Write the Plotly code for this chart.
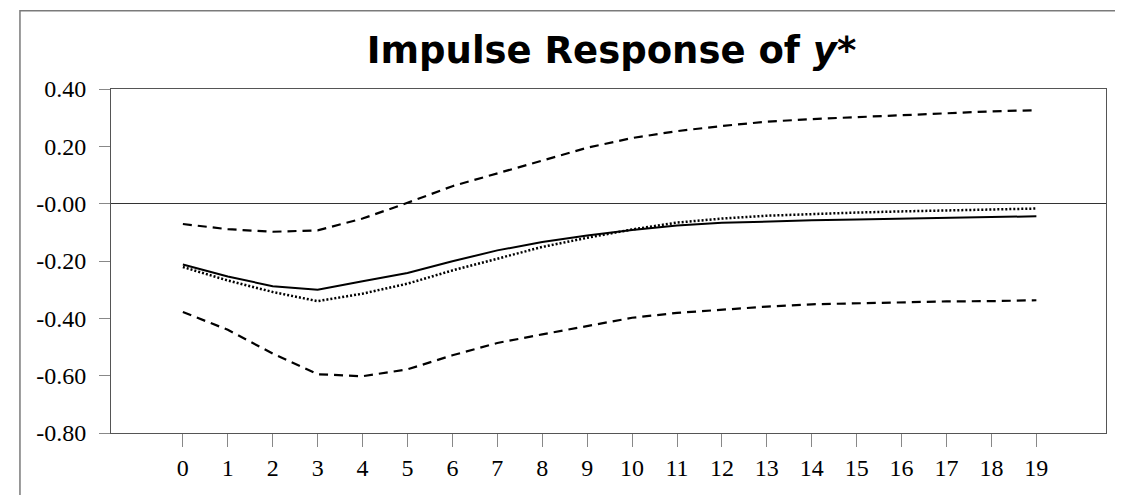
import plotly.graph_objects as go

# horizon (periods after the shock)
periods = list(range(20))

# impulse response of y* (solid) and the second estimate (dotted)
response = [-0.212, -0.254, -0.288, -0.300, -0.271, -0.242, -0.201, -0.163, -0.134, -0.111,
            -0.092, -0.076, -0.067, -0.062, -0.058, -0.055, -0.052, -0.050, -0.047, -0.044]
response_alt = [-0.221, -0.268, -0.308, -0.340, -0.314, -0.279, -0.233, -0.192, -0.151, -0.119,
                -0.090, -0.066, -0.052, -0.042, -0.036, -0.031, -0.027, -0.024, -0.022, -0.017]

# confidence bands (dashed)
upper_band = [-0.071, -0.089, -0.098, -0.093, -0.052, 0.003, 0.061, 0.106, 0.151, 0.195,
              0.229, 0.253, 0.271, 0.286, 0.295, 0.302, 0.310, 0.317, 0.322, 0.326]
lower_band = [-0.378, -0.440, -0.523, -0.595, -0.602, -0.578, -0.529, -0.486, -0.456, -0.426,
              -0.398, -0.381, -0.370, -0.359, -0.351, -0.347, -0.343, -0.341, -0.340, -0.337]

y_ticks = [0.4, 0.2, 0.0, -0.2, -0.4, -0.6, -0.8]
y_labels = ["0.40", "0.20", "-0.00", "-0.20", "-0.40", "-0.60", "-0.80"]

serif = "Liberation Serif, Times New Roman, serif"

fig = go.Figure()
fig.add_trace(go.Scatter(x=periods, y=upper_band, mode="lines",
                         line=dict(color="black", width=2.2, dash="9px,6px")))
fig.add_trace(go.Scatter(x=periods, y=lower_band, mode="lines",
                         line=dict(color="black", width=2.2, dash="9px,6px")))
fig.add_trace(go.Scatter(x=periods, y=response_alt, mode="lines",
                         line=dict(color="black", width=2.5, dash="2px,2px")))
fig.add_trace(go.Scatter(x=periods, y=response, mode="lines",
                         line=dict(color="black", width=2)))

# outer frame around the whole picture (page body adds an 8px offset)
fig.add_shape(type="rect", xref="paper", yref="paper",
              x0=-0.0915, y0=-0.2, x1=1.025, y1=1.2276,
              line=dict(color="#7a7a7a", width=1.5))

fig.update_layout(
    width=1115, height=487,
    margin=dict(l=103, r=17, t=81, b=62),
    paper_bgcolor="white", plot_bgcolor="white",
    showlegend=False,
    title=dict(text="<b>Impulse Response of <i>y</i>*</b>",
               font=dict(family="DejaVu Sans", size=37, color="black"),
               x=0.5413, xanchor="center", xref="container",
               y=0.9138, yanchor="middle", yref="container"),
)
fig.update_xaxes(range=[-1.6, 20.55], tickvals=periods, showgrid=False, zeroline=False,
                 showline=True, linecolor="#555555", linewidth=1, mirror=True,
                 ticks="outside", ticklen=13, tickcolor="#888888",
                 tickfont=dict(family=serif, size=24, color="black"))
fig.update_yaxes(range=[-0.8, 0.4], tickvals=y_ticks, ticktext=y_labels, showgrid=False,
                 zeroline=True, zerolinecolor="#333333", zerolinewidth=1,
                 showline=True, linecolor="#555555", linewidth=1, mirror=True,
                 ticks="outside", ticklen=11, tickcolor="#888888", ticklabelstandoff=8,
                 tickfont=dict(family=serif, size=24, color="black"))

# no scrollbars in the page
fig.write_html("out.html", post_script="document.body.style.overflow='hidden';")
